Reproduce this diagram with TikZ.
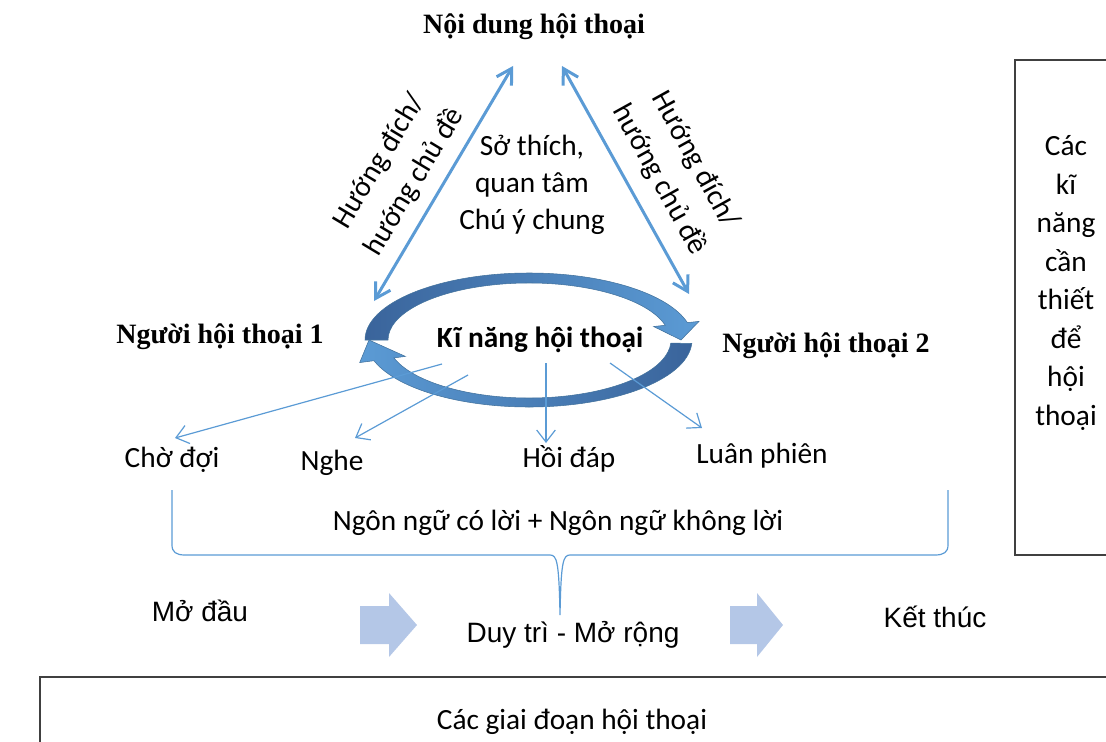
\documentclass[tikz,border=0pt]{standalone}
\usepackage{fontspec}
\setmainfont{Carlito}
\newfontfamily\timesfont{Liberation Serif}
\newfontfamily\arialfont{Liberation Sans}
\usetikzlibrary{arrows.meta,calc}
\definecolor{lineblue}{RGB}{91,155,213}
\definecolor{ringdark}{RGB}{58,100,155}
\definecolor{ringlight}{RGB}{91,155,213}
\definecolor{ringedge}{RGB}{65,113,156}
\definecolor{stageblue}{RGB}{180,199,231}
\definecolor{boxgray}{RGB}{64,64,64}

\begin{document}
\begin{tikzpicture}[x=0.75pt,y=0.75pt,yscale=-1,xscale=1,
  headline/.style={font=\timesfont\bfseries\fontsize{21}{25}\selectfont, inner sep=0.75pt},
  plain/.style={font=\fontsize{22}{27.8}\selectfont, inner sep=0.75pt, align=center},
  goaltext/.style={plain, font=\fontsize{22}{30.5}\selectfont},
  stagetext/.style={font=\arialfont\fontsize{21}{25}\selectfont, inner sep=0.75pt},
  topicline/.style={draw=lineblue, line width=2.25pt, {Straight Barb[length=11pt,width=13pt]}-{Straight Barb[length=11pt,width=13pt]}},
  skillline/.style={draw=lineblue, line width=0.9pt, -{Straight Barb[length=9pt,width=14pt]}},
  braceline/.style={draw=lineblue, line width=0.9pt},
  stagearrow/.style={fill=stageblue},
  framebox/.style={draw=boxgray, line width=1.2pt},
  ringarrow/.style={draw=ringedge, line width=0.4pt}]
        \useasboundingbox (0,0) rectangle (1106,742);

        %Shape: Rectangle [id:needs box]
        \draw[framebox] (1015,60) rectangle (1112,555);
        %Shape: Rectangle [id:phases box]
        \draw[framebox] (40,677) rectangle (1112,748);

        %Shape: Curved Arrow [id:ring top]
        \coordinate (ring) at (529,340);
        \path[ringarrow, left color=ringdark, right color=ringlight] ($(ring)+(180:164 and 67)$) arc[start angle=180, end angle=345, x radius=164, y radius=67] -- ($(ring)+(345:176 and 72)$) -- ($(ring)+(0:152 and 62)$) -- ($(ring)+(345:129 and 52)$) -- ($(ring)+(345:141 and 57)$) arc[start angle=345, end angle=180, x radius=141, y radius=57] -- cycle;
        %Shape: Curved Arrow [id:ring bottom]
        \path[ringarrow, left color=ringlight, right color=ringdark] ($(ring)+(3:163 and 67)$) arc[start angle=3, end angle=162, x radius=163, y radius=67] -- ($(ring)+(162:178 and 73)$) -- ($(ring)+(180:160 and 64)$) -- ($(ring)+(162:130 and 53)$) -- ($(ring)+(162:142 and 58)$) arc[start angle=162, end angle=3, x radius=142, y radius=58] -- cycle;

        % Text Node
        \node[headline] (content) at (534,27) {Nội dung hội thoại};
        % Text Node
        \node[headline] (speakerA) at (220,337) {Người hội thoại 1};
        % Text Node
        \node[headline] (speakerB) at (826,346) {Người hội thoại 2};
        % Text Node
        \node[plain, font=\bfseries\fontsize{22}{27.8}\selectfont] (skills) at (540,340) {Kĩ năng hội thoại};
        % Text Node
        \node[plain] (interest) at (532,185) {Sở thích,\\quan tâm\\Chú ý chung};
        % Text Node
        \node[goaltext, rotate=59] (goalA) at (397,172) {Hướng đích/\\hướng chủ đề};
        % Text Node
        \node[goaltext, rotate=-61] (goalB) at (677,170) {Hướng đích/\\hướng chủ đề};
        % Text Node
        \node[plain] (wait) at (172,460) {Chờ đợi};
        % Text Node
        \node[plain] (listen) at (332,463) {Nghe};
        % Text Node
        \node[plain] (reply) at (569,459) {Hồi đáp};
        % Text Node
        \node[plain] (turn) at (762,456) {Luân phiên};
        % Text Node
        \node[plain] (lang) at (558,523) {Ngôn ngữ có lời + Ngôn ngữ không lời};
        % Text Node
        \node[stagetext] (open) at (200,611) {Mở đầu};
        % Text Node
        \node[stagetext] (keep) at (573,635) {Duy trì - Mở rộng};
        % Text Node
        \node[stagetext] (close) at (935,617) {Kết thúc};
        % Text Node
        \node[plain, font=\fontsize{22}{28.9}\selectfont] (needs) at (1066,283) {Các\\kĩ\\năng\\cần\\thiết\\để\\hội\\thoại};
        % Text Node
        \node[plain] (phases) at (572,722) {Các giai đoạn hội thoại};

        %Straight Lines [id:topic arrows]
        \coordinate (topA1) at (513,66);
        \coordinate (topA2) at (374,301);
        \coordinate (topB1) at (562,66);
        \coordinate (topB2) at (689,294);
        \draw[topicline] (topA2) -- (topA1);
        \draw[topicline] (topB1) -- (topB2);

        %Straight Lines [id:skill arrows]
        \coordinate (skA) at (442,364);
        \coordinate (skB) at (468,375);
        \coordinate (skC) at (546,363);
        \coordinate (skD) at (610,363);
        \coordinate (waitTip) at (175,438);
        \coordinate (listenTip) at (355,438);
        \coordinate (replyTip) at (546,443);
        \coordinate (turnTip) at (702,428);
        \draw[skillline] (skA) -- (waitTip);
        \draw[skillline] (skB) -- (listenTip);
        \draw[skillline] (skC) -- (replyTip);
        \draw[skillline] (skD) -- (turnTip);

        %Shape: Brace [id:language brace]
        \draw[braceline] (172,490) -- (172,545) .. controls (172,552) and (176,555) .. (185,555) -- (550,555) .. controls (557,555) and (559,562) .. (560,615) .. controls (561,562) and (563,555) .. (570,555) -- (935,555) .. controls (944,555) and (948,552) .. (948,545) -- (948,490);

        %Shape: Right Arrow [id:stage arrow 1]
        \fill[stagearrow] (360,606) -- (389,606) -- (389,593) -- (417,625) -- (389,657) -- (389,644) -- (360,644) -- cycle;
        %Shape: Right Arrow [id:stage arrow 2]
        \fill[stagearrow] (730,606) -- (757,606) -- (757,593) -- (783,625) -- (757,657) -- (757,644) -- (730,644) -- cycle;

\end{tikzpicture}
\end{document}
